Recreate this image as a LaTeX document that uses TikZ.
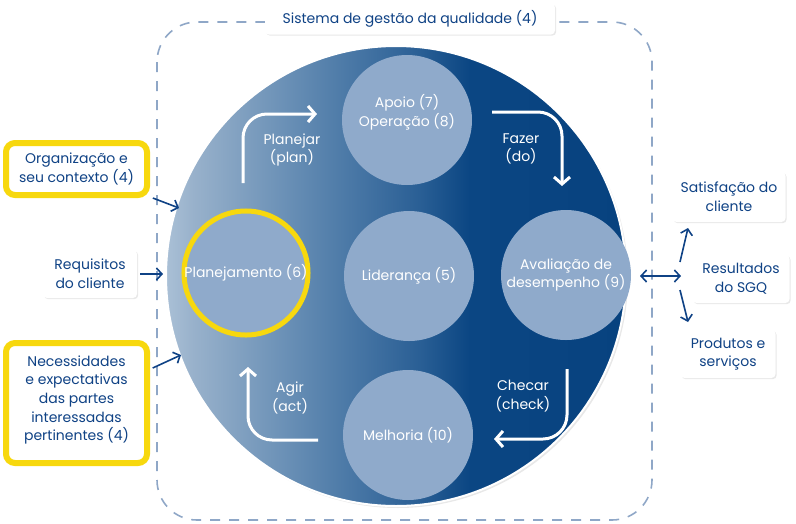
\documentclass[tikz,border=0pt]{standalone}
\usepackage{fontspec}
\setmainfont{Poppins}
\usetikzlibrary{arrows.meta,shadows,calc}
\definecolor{navy}{HTML}{0F4285}
\definecolor{dashc}{HTML}{8FA7C7}
\definecolor{innerc}{HTML}{8FAACB}
\definecolor{yel}{HTML}{F7D80E}
\definecolor{cA}{HTML}{AAC0D6}
\definecolor{cB}{HTML}{98B1CB}
\definecolor{cC}{HTML}{6A90B6}
\definecolor{cD}{HTML}{4A78A6}
\definecolor{cE}{HTML}{2A5F95}
\definecolor{cF}{HTML}{0B4683}
\definecolor{cG}{HTML}{07427F}
\pgfdeclarehorizontalshading{bigshade}{100bp}{color(0bp)=(cA); color(25bp)=(cA); color(28bp)=(cB); color(38bp)=(cC); color(45bp)=(cD); color(52.5bp)=(cE); color(58bp)=(cF); color(75bp)=(cG); color(100bp)=(cG)}
\tikzset{
  txt/.style={font=\fontsize{14}{18.7}\selectfont, align=center},
  innercirc/.style={txt, circle, fill=innerc, text=white, minimum size=130pt, inner sep=0pt},
  wbox/.style={txt, text=navy, fill=white, rounded corners=4pt, inner sep=0pt,
     drop shadow={opacity=0.18, shadow xshift=1.2pt, shadow yshift=-1.2pt}},
  ybox/.style={txt, text=navy, fill=white, draw=yel, line width=6pt, rounded corners=9pt, inner sep=0pt},
  narrow/.style={draw=navy, line width=1.6pt, -{Straight Barb[length=5.5pt,width=12pt]}},
  warrow/.style={draw=white, line width=3pt, rounded corners=24pt, -{Straight Barb[length=7pt,width=16pt]}},
  wlabel/.style={txt, text=white},
}
\begin{document}
\begin{tikzpicture}[x=1pt,y=-1pt]
\useasboundingbox (0,0) rectangle (796,523);
% dashed system boundary
\draw[dashc, line width=1.6pt, dash pattern=on 10pt off 9pt, rounded corners=40pt] (157,22) rectangle (652,520);
% big circle
\node[circle, minimum size=460pt, inner sep=0pt, shading=bigshade, draw=white, line width=2pt,
      drop shadow={opacity=0.18, shadow xshift=2pt, shadow yshift=-2pt}] (big) at (396,276) {};
% inner circles
\node[innercirc] (apoio) at (407,120) {Apoio (7)\\Operação (8)\\\mbox{}};
\node[innercirc] (lider) at (409,276) {Liderança (5)};
\node[innercirc] (aval) at (566,275) {Avaliação de\\desempenho (9)};
\node[innercirc] (melh) at (408,435) {Melhoria (10)};
\node[innercirc, minimum size=122pt, draw=yel, line width=5pt] (plan) at (246,273) {Planejamento (6)};
% PDCA arrows
\coordinate (pa) at (243,183); \coordinate (pb) at (317,114);
\coordinate (da) at (492,112); \coordinate (db) at (562,186);
\coordinate (ca) at (567,369); \coordinate (cb) at (494,439);
\coordinate (aa) at (318,440); \coordinate (ab) at (248,367);
\draw[warrow] (pa) |- (pb);
\draw[warrow] (da) -| (db);
\draw[warrow] (ca) |- (cb);
\draw[warrow] (aa) -| (ab);
\node[wlabel] (lplan) at (292,150) {Planejar\\(plan)};
\node[wlabel] (ldo) at (521,149) {Fazer\\(do)};
\node[wlabel] (lcheck) at (523,396) {Checar\\(check)};
\node[wlabel] (lact) at (290,398) {Agir\\(act)};
% title
\node[wbox, minimum width=290pt, minimum height=31pt] (title) at (410,19) {Sistema de gestão da qualidade (4)};
% inputs
\node[ybox, minimum width=141pt, minimum height=52pt] (org) at (76.5,169) {Organização e\\seu contexto (4)};
\node[wbox, minimum width=94pt, minimum height=48pt] (req) at (90,274) {Requisitos\\do cliente};
\node[ybox, minimum width=141pt, minimum height=120pt] (nec) at (76.5,403) {Necessidades\\e expectativas\\das partes\\interessadas\\pertinentes (4)\\[-9pt]\mbox{}};
\coordinate (orgin) at (179,208);
\coordinate (reqin) at (163,274);
\coordinate (necin) at (181,355);
\draw[narrow, shorten <=3pt] (org) -- (orgin);
\draw[narrow, shorten <=3pt] (req) -- (reqin);
\draw[narrow, shorten <=3pt] (nec) -- (necin);
% outputs
\node[wbox, minimum width=113pt, minimum height=50pt] (sat) at (729,197) {Satisfação do\\cliente};
\node[wbox, minimum width=97pt, minimum height=48pt] (res) at (741,279) {Resultados\\do SGQ};
\node[wbox, minimum width=95pt, minimum height=48pt] (prod) at (728,354) {Produtos e\\serviços};
\coordinate (hub) at (681,276);
\coordinate (u0) at (680,262); \coordinate (u1) at (688,228);
\coordinate (d0) at (680,290); \coordinate (d1) at (688,322);
\draw[narrow, {Straight Barb[length=5.5pt,width=12pt]}-{Straight Barb[length=5.5pt,width=12pt]}, shorten <=13pt] (big.east) -- (hub);
\draw[narrow] (u0) -- (u1);
\draw[narrow] (d0) -- (d1);
\end{tikzpicture}
\end{document}
